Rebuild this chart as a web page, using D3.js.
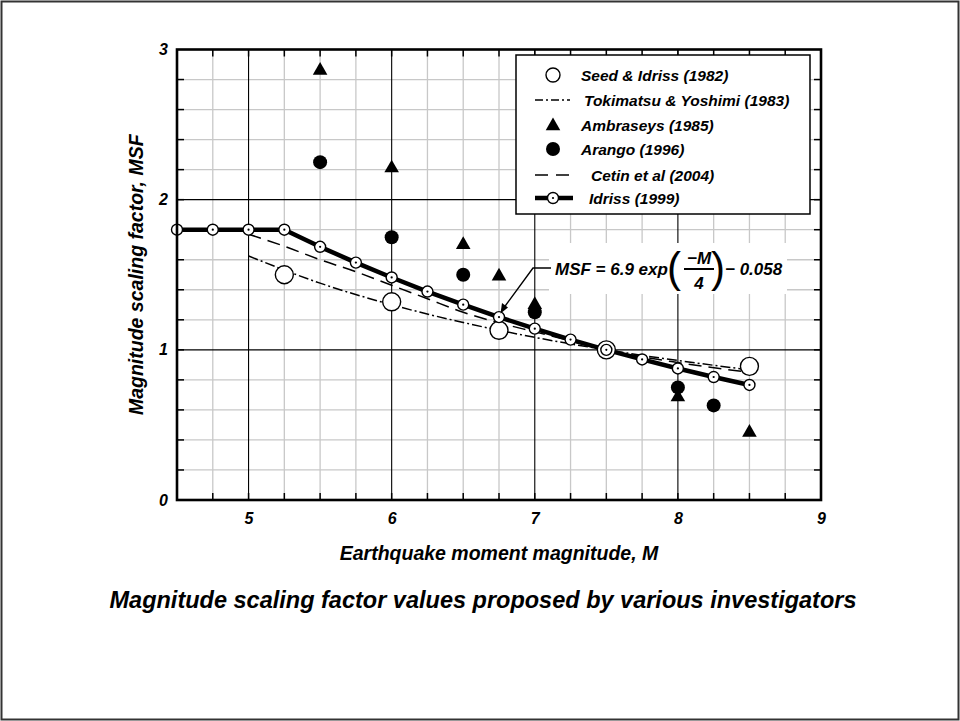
<!DOCTYPE html>
<html><head><meta charset="utf-8">
<script src="https://cdn.jsdelivr.net/npm/d3@7"></script>
<style>
body{margin:0;background:#fff}
text{font-family:"Liberation Sans",Arial,sans-serif;font-weight:bold;font-style:italic;fill:#000}
</style>
</head><body>
<svg id="c" width="960" height="721"></svg>
<script>
// ---- data ----
const xTickLabels = [5, 6, 7, 8, 9];
const yTickLabels = [0, 1, 2, 3];

const idrissM   = [4.5, 4.75, 5.0, 5.25, 5.5, 5.75, 6.0, 6.25, 6.5, 6.75, 7.0, 7.25, 7.5, 7.75, 8.0, 8.25, 8.5];
const idrissMSF = [1.8, 1.8, 1.8, 1.8, 1.686, 1.581, 1.482, 1.388, 1.301, 1.218, 1.141, 1.068, 1.0, 0.936, 0.876, 0.819, 0.766];

const seedM   = [5.25, 6.0, 6.75, 7.5, 8.5];
const seedMSF = [1.5, 1.32, 1.13, 1.0, 0.89];

const tokiM   = [5.0, 5.5, 6.0, 6.5, 7.0, 7.5, 8.0, 8.5];
const tokiMSF = [1.625, 1.444, 1.30, 1.182, 1.083, 1.0, 0.929, 0.867];

const cetinM   = [5.0, 5.25, 5.5, 5.75, 6.0, 6.25, 6.5, 6.75, 7.0, 7.25, 7.5, 8.0, 8.5];
const cetinMSF = [1.77, 1.69, 1.60, 1.52, 1.43, 1.34, 1.25, 1.18, 1.12, 1.06, 1.0, 0.915, 0.85];

const ambM   = [5.5, 6.0, 6.5, 6.75, 7.0, 8.0, 8.5];
const ambMSF = [2.86, 2.21, 1.70, 1.49, 1.30, 0.685, 0.45];

const arangoM   = [5.5, 6.0, 6.5, 7.0, 8.0, 8.25];
const arangoMSF = [2.25, 1.75, 1.5, 1.25, 0.75, 0.63];

const legendLabels = ["Seed & Idriss (1982)", "Tokimatsu & Yoshimi (1983)", "Ambraseys (1985)",
                      "Arango (1996)", "Cetin et al (2004)", "Idriss (1999)"];

// ---- layout ----
const svg = d3.select("#c");
const L = 177, R = 821, T = 49.5, B = 500;
const x = d3.scaleLinear().domain([4.5, 9]).range([L, R]);
const y = d3.scaleLinear().domain([0, 3]).range([B, T]);
const zip = (a, b) => a.map((v, i) => [v, b[i]]);

// outer frame
svg.append("rect").attr("x", 1.5).attr("y", 1.5).attr("width", 957).attr("height", 718)
  .attr("fill", "#fff").attr("stroke", "#333").attr("stroke-width", 2);

// grid
const g = svg.append("g");
const xMinor = d3.range(4.75, 9, 0.25).filter(v => Math.abs(v - Math.round(v)) > 1e-6);
const yMinor = d3.range(0.2, 3, 0.2).filter(v => Math.abs(v - Math.round(v)) > 1e-6);
g.selectAll(".xm").data(xMinor).join("line")
  .attr("x1", d => x(d)).attr("x2", d => x(d)).attr("y1", T).attr("y2", B)
  .attr("stroke", "#c8c8c8").attr("stroke-width", 1.3);
g.selectAll(".ym").data(yMinor).join("line")
  .attr("y1", d => y(d)).attr("y2", d => y(d)).attr("x1", L).attr("x2", R)
  .attr("stroke", "#c8c8c8").attr("stroke-width", 1.3);
g.selectAll(".xM").data([5, 6, 7, 8]).join("line")
  .attr("x1", d => x(d)).attr("x2", d => x(d)).attr("y1", T).attr("y2", B)
  .attr("stroke", "#000").attr("stroke-width", 1.1);
g.selectAll(".yM").data([1, 2]).join("line")
  .attr("y1", d => y(d)).attr("y2", d => y(d)).attr("x1", L).attr("x2", R)
  .attr("stroke", "#000").attr("stroke-width", 1.1);

// inner ticks
const tk = 7;
const xAll = d3.range(4.75, 9, 0.25);
const yAll = d3.range(0.2, 3, 0.2);
g.selectAll(".tb").data(xAll).join("line")
  .attr("x1", d => x(d)).attr("x2", d => x(d)).attr("y1", B).attr("y2", B - tk)
  .attr("stroke", "#000").attr("stroke-width", 1.5);
g.selectAll(".tt").data(xAll).join("line")
  .attr("x1", d => x(d)).attr("x2", d => x(d)).attr("y1", T).attr("y2", T + tk)
  .attr("stroke", "#000").attr("stroke-width", 1.5);
g.selectAll(".tl").data(yAll).join("line")
  .attr("y1", d => y(d)).attr("y2", d => y(d)).attr("x1", L).attr("x2", L + tk)
  .attr("stroke", "#000").attr("stroke-width", 1.5);
g.selectAll(".tr").data(yAll).join("line")
  .attr("y1", d => y(d)).attr("y2", d => y(d)).attr("x1", R).attr("x2", R - tk)
  .attr("stroke", "#000").attr("stroke-width", 1.5);

// tick labels via axes
const xAxis = svg.append("g").attr("transform", `translate(0,${B})`)
  .call(d3.axisBottom(x).tickValues(xTickLabels).tickSize(0).tickPadding(13).tickFormat(d3.format("d")));
const yAxis = svg.append("g").attr("transform", `translate(${L},0)`)
  .call(d3.axisLeft(y).tickValues(yTickLabels).tickSize(0).tickPadding(9).tickFormat(d3.format("d")));
[xAxis, yAxis].forEach(a => {
  a.select(".domain").remove();
  a.selectAll("text").style("font-family", '"Liberation Sans",Arial,sans-serif')
    .style("font-weight", "bold").style("font-style", "italic").style("font-size", "16px").attr("fill", "#000");
});

// lines
const line = d3.line().x(d => x(d[0])).y(d => y(d[1]));
const cline = d3.line().x(d => x(d[0])).y(d => y(d[1])).curve(d3.curveMonotoneX);
svg.append("path").attr("d", cline(zip(tokiM, tokiMSF))).attr("fill", "none")
  .attr("stroke", "#000").attr("stroke-width", 1.5).attr("stroke-dasharray", "10,3,2,3");
svg.append("path").attr("d", cline(zip(cetinM, cetinMSF))).attr("fill", "none")
  .attr("stroke", "#000").attr("stroke-width", 1.5).attr("stroke-dasharray", "13,7");
svg.append("path").attr("d", line(zip(idrissM, idrissMSF))).attr("fill", "none")
  .attr("stroke", "#000").attr("stroke-width", 4.5).attr("stroke-linejoin", "round");

// Seed & Idriss circles
svg.selectAll(".seed").data(zip(seedM, seedMSF)).join("circle")
  .attr("cx", d => x(d[0])).attr("cy", d => y(d[1])).attr("r", 9)
  .attr("fill", "#fff").attr("stroke", "#000").attr("stroke-width", 1.4);

// Idriss markers
const idr = svg.selectAll(".idr").data(zip(idrissM, idrissMSF)).join("g")
  .attr("transform", d => `translate(${x(d[0])},${y(d[1])})`);
idr.append("circle").attr("r", 5.5).attr("fill", "#fff").attr("stroke", "#000").attr("stroke-width", 1.4);
idr.append("circle").attr("r", 1.1).attr("fill", "#000");

// Ambraseys triangles
const tri = d3.symbol(d3.symbolTriangle, 92);
svg.selectAll(".amb").data(zip(ambM, ambMSF)).join("path")
  .attr("d", tri).attr("transform", d => `translate(${x(d[0])},${y(d[1])})`).attr("fill", "#000");

// Arango filled circles
svg.selectAll(".ara").data(zip(arangoM, arangoMSF)).join("circle")
  .attr("cx", d => x(d[0])).attr("cy", d => y(d[1])).attr("r", 7).attr("fill", "#000");

// formula annotation
svg.append("rect").attr("x", 549).attr("y", 243).attr("width", 238).attr("height", 51).attr("fill", "#fff");
svg.append("path").attr("d", "M551,268 L533,268 L503,309").attr("fill", "none").attr("stroke", "#000").attr("stroke-width", 1.4);
svg.append("path").attr("d", "M500.5,313.5 L502,303 L508,307.5 Z").attr("fill", "#000");
const fs = 17;
svg.append("text").attr("x", 555).attr("y", 275).style("font-size", fs + "px").text("MSF = 6.9 exp");
svg.append("text").attr("x", 667).attr("y", 282).style("font-size", "42px").style("font-weight", "normal")
  .style("font-style", "normal").text("(");
svg.append("text").attr("x", 699).attr("y", 264).attr("text-anchor", "middle").style("font-size", fs + "px").text("\u2212M");
svg.append("line").attr("x1", 684).attr("x2", 714).attr("y1", 269).attr("y2", 269).attr("stroke", "#000").attr("stroke-width", 2);
svg.append("text").attr("x", 699).attr("y", 289).attr("text-anchor", "middle").style("font-size", fs + "px").text("4");
svg.append("text").attr("x", 711).attr("y", 282).style("font-size", "42px").style("font-weight", "normal")
  .style("font-style", "normal").text(")");
svg.append("text").attr("x", 725).attr("y", 275).style("font-size", fs + "px").text("\u2212 0.058");

// axis frame
svg.append("rect").attr("x", L).attr("y", T).attr("width", R - L).attr("height", B - T)
  .attr("fill", "none").attr("stroke", "#000").attr("stroke-width", 2.6);

// legend
const lg = svg.append("g");
lg.append("rect").attr("x", 516).attr("y", 55).attr("width", 294).attr("height", 159)
  .attr("fill", "#fff").attr("stroke", "#000").attr("stroke-width", 1.5);
const rowY = [75, 100, 125, 149, 175, 198];
const txtX = [581, 584, 581, 581, 591, 589];
const sx = 553;
lg.append("circle").attr("cx", sx).attr("cy", rowY[0]).attr("r", 7).attr("fill", "#fff").attr("stroke", "#000").attr("stroke-width", 1.4);
lg.append("line").attr("x1", 535).attr("x2", 570).attr("y1", rowY[1]).attr("y2", rowY[1])
  .attr("stroke", "#000").attr("stroke-width", 1.5).attr("stroke-dasharray", "8,3,2,3");
lg.append("path").attr("d", tri).attr("transform", `translate(${sx},${rowY[2] + 1})`).attr("fill", "#000");
lg.append("circle").attr("cx", sx).attr("cy", rowY[3]).attr("r", 7).attr("fill", "#000");
lg.append("line").attr("x1", 535).attr("x2", 572).attr("y1", rowY[4]).attr("y2", rowY[4])
  .attr("stroke", "#000").attr("stroke-width", 1.5).attr("stroke-dasharray", "13,8");
lg.append("line").attr("x1", 535).attr("x2", 573).attr("y1", rowY[5]).attr("y2", rowY[5])
  .attr("stroke", "#000").attr("stroke-width", 4.5);
lg.append("circle").attr("cx", sx).attr("cy", rowY[5]).attr("r", 5.5).attr("fill", "#fff").attr("stroke", "#000").attr("stroke-width", 1.4);
lg.append("circle").attr("cx", sx).attr("cy", rowY[5]).attr("r", 1.1).attr("fill", "#000");
lg.selectAll(".lt").data(legendLabels).join("text")
  .attr("x", (d, i) => txtX[i]).attr("y", (d, i) => rowY[i] + 5.5)
  .style("font-size", "15.5px").text(d => d);

// axis titles
svg.append("text").attr("x", (L + R) / 2).attr("y", 560).attr("text-anchor", "middle")
  .style("font-size", "19.5px").text("Earthquake moment magnitude, M");
svg.append("text").attr("transform", `translate(143,${(T + B) / 2}) rotate(-90)`).attr("text-anchor", "middle")
  .style("font-size", "19.5px").text("Magnitude scaling factor, MSF");

// chart title
svg.append("text").attr("x", 483).attr("y", 608).attr("text-anchor", "middle")
  .style("font-size", "23.5px").text("Magnitude scaling factor values proposed by various investigators");
</script>
</body></html>
